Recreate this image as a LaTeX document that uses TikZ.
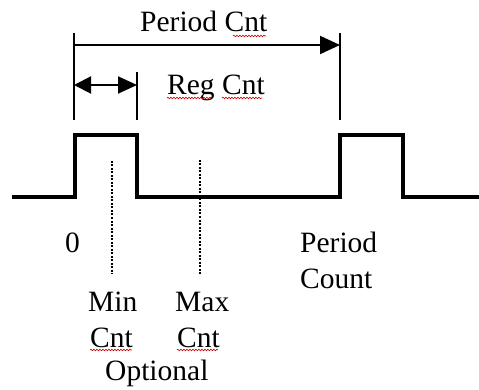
\documentclass[tikz,border=0pt]{standalone}
\usepackage{fontspec}
\setmainfont{Liberation Serif}
\usetikzlibrary{arrows.meta,positioning,decorations.pathmorphing}

\tikzset{
  lbl/.style={font=\fontsize{29.5}{35}\selectfont, inner sep=0pt, anchor=base west},
  wave/.style={line width=4.5pt},
  ext/.style={line width=2pt},
  dim/.style={line width=2pt, arrows={-Triangle[length=20pt,width=18pt]}},
  limitline/.style={line width=2.2pt, dash pattern=on 2pt off 1.5pt},
  squig/.style={red!80!black, line width=0.6pt, decorate,
    decoration={snake, amplitude=0.8pt, segment length=3pt}}
}

\begin{document}
\begin{tikzpicture}[x=1pt,y=-1pt]
      \useasboundingbox (0,0) rectangle (479,390);
      % Define coordinates
      \coordinate (A) at (74,45);
      \coordinate (B) at (340,45);
      \coordinate (C) at (74,85);
      \coordinate (D) at (137,85);
      \coordinate (Atop) at (74,33);
      \coordinate (Abot) at (74,120);
      \coordinate (Dtop) at (137,72);
      \coordinate (Dbot) at (137,120);
      \coordinate (Btop) at (340,33);
      \coordinate (Bbot) at (340,120);
      \coordinate (MinTop) at (112,161);
      \coordinate (MinBot) at (112,274);
      \coordinate (MaxTop) at (200,160);
      \coordinate (MaxBot) at (200,274);
      % Draw the pulse train
      \draw[wave] (12,197) -- (75,197) -- (75,135) -- (137,135) -- (137,197)
        -- (340,197) -- (340,135) -- (403,135) -- (403,197) -- (479,197);
      % Extension lines
      \draw[ext] (Atop) -- (Abot);
      \draw[ext] (Dtop) -- (Dbot);
      \draw[ext] (Btop) -- (Bbot);
      % Dimension arrows
      \draw[dim] (A) -- (B);
      \draw[dim, arrows={Triangle[length=17pt,width=17pt]-Triangle[length=19pt,width=17pt]}] (C) -- (D);
      % Optional limits
      \draw[limitline] (MinTop) -- (MinBot);
      \draw[limitline] (MaxTop) -- (MaxBot);
      % Labels
      \node[lbl] (period) at (140,32) {Period Cnt};
      \node[lbl] (reg) at (167,95) {Reg Cnt};
      \node[lbl] (zero) at (65,252) {0};
      \node[lbl] (pcount) at (300,252) {Period};
      \node[lbl] (pcount2) at (300,288) {Count};
      \node[lbl] (min) at (88,311) {Min};
      \node[lbl] (min2) at (90,347) {Cnt};
      \node[lbl] (max) at (175,311) {Max};
      \node[lbl] (max2) at (177,347) {Cnt};
      \node[lbl] (opt) at (105,380) {Optional};
      % spelling marks
      \draw[squig] (233,36) -- (266,36);
      \draw[squig] (167,98) -- (211,98);
      \draw[squig] (222,98) -- (262,98);
      \draw[squig] (90,350) -- (132,350);
      \draw[squig] (177,350) -- (218,350);
    \end{tikzpicture}
\end{document}
